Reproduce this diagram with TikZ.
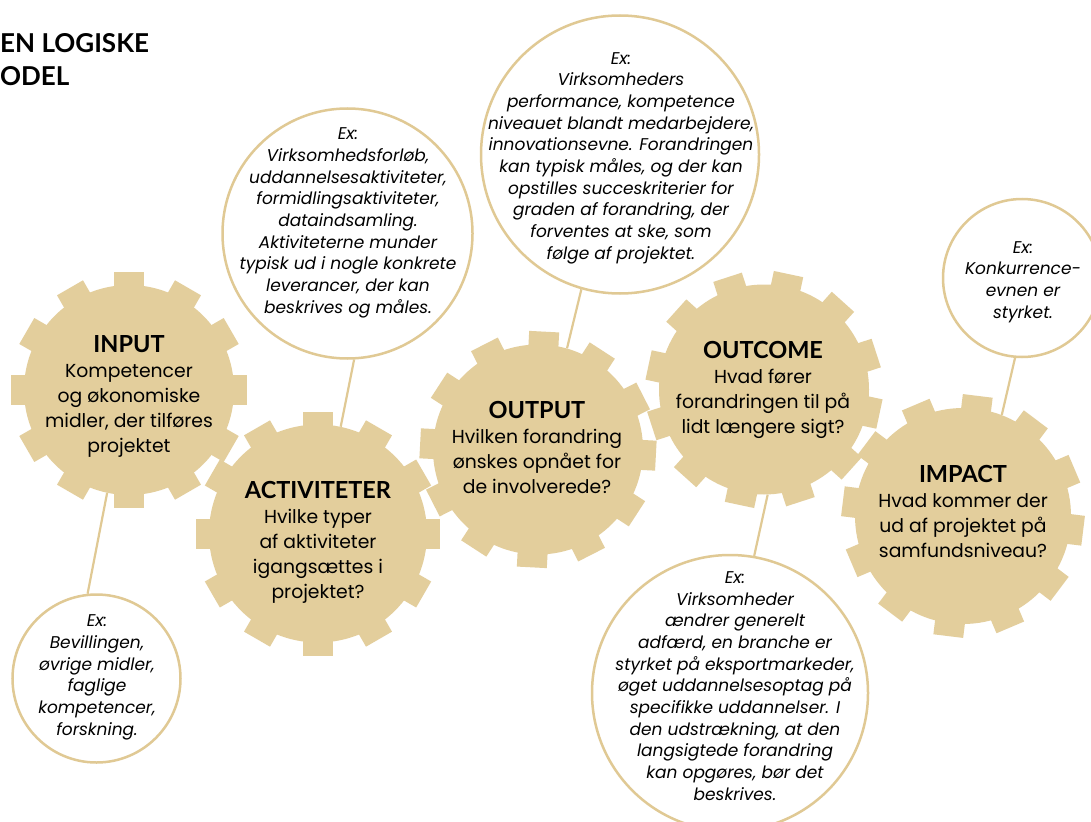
\documentclass[tikz,border=0pt]{standalone}
\usepackage{fontspec}
\setmainfont{Lato}
\newfontfamily\tfont{Lato}
\newfontfamily\gfont{Poppins}
\newfontfamily\exfont{Poppins}
\definecolor{gearfill}{RGB}{227,206,156}
\definecolor{ringline}{RGB}{224,201,148}
\tikzset{
  pics/gearwheel/.style 2 args={code={
    \fill[gearfill] (0,0) circle ({#1-13});
    \foreach \k in {0,...,11}{
      \fill[gearfill,rotate={#2+30*\k}] (-15,{#1-16}) rectangle (15,#1);
    }
  }},
  gearcore/.style={circle, inner sep=0pt, minimum size=#1},
  gtext/.style={align=center, anchor=base, inner sep=0pt, font=\gfont\fontsize{18.8}{24.8}\selectfont},
  extext/.style={align=center, anchor=base, inner sep=0pt, font=\exfont\itshape\fontsize{17}{21.65}\selectfont},
  exring/.style={circle, draw=ringline, line width=2.5pt, fill=white, inner sep=0pt, minimum size=#1},
  link/.style={draw=ringline, line width=2.2pt},
  titletext/.style={anchor=base west, inner sep=0pt, font=\tfont\bfseries\fontsize{26}{33}\selectfont}
}
\newcommand\gtitle[1]{{\tfont\bfseries\fontsize{23.5}{24.8}\selectfont #1}}
\begin{document}
\begin{tikzpicture}[x=1pt,y=1pt]
\useasboundingbox (0,0) rectangle (1091,-821);
\fill[white] (0,0) rectangle (1091,-821);

% title
\node[titletext] (title1) at (0,-53) {EN LOGISKE};
\node[titletext] (title2) at (0,-86) {ODEL};

% gear cores (for anchors)
\node[gearcore=210] (ginput) at (129,-390) {};
\node[gearcore=218] (gact) at (318,-533.5) {};
\node[gearcore=210] (goutput) at (538,-449.5) {};
\node[gearcore=210] (goutcome) at (764,-389.5) {};
\node[gearcore=216] (gimpact) at (963,-516) {};

% example rings
\node[exring=168] (exinput) at (96.5,-678.5) {};
\node[exring=250] (exact) at (347.5,-233.5) {};
\node[exring=278] (exoutput) at (620,-154.5) {};
\node[exring=276] (exoutcome) at (730,-693) {};
\node[exring=158] (eximpact) at (1022,-278) {};

% links
\draw[link] (ginput.258) -- (exinput.96);
\draw[link] (exact.273) -- (gact.78);
\draw[link] (exoutput.254) -- (goutput.74);
\draw[link] (goutcome.272) -- (exoutcome.80);
\draw[link] (eximpact.265) -- (gimpact.69);

% gears
\pic at (129,-390) {gearwheel={118}{0}};
\pic at (318,-533.5) {gearwheel={122}{0}};
\pic at (538,-449.5) {gearwheel={118}{-3}};
\pic at (764,-389.5) {gearwheel={118}{-12}};
\pic at (963,-516) {gearwheel={121}{-7}};

% gear texts (anchor = baseline of last line)
\node[gtext] (tinput) at (129,-452) {\gtitle{INPUT}\\Kompetencer\\og økonomiske\\midler, der tilføres\\projektet};
\node[gtext] (tact) at (318,-598) {\gtitle{ACTIVITETER}\\Hvilke typer\\af aktiviteter\\igangsættes i\\projektet?};
\node[gtext] (toutput) at (537,-493) {\gtitle{OUTPUT}\\Hvilken forandring\\ønskes opnået for\\de involverede?};
\node[gtext] (toutcome) at (763,-433) {\gtitle{OUTCOME}\\Hvad fører\\forandringen til på\\lidt længere sigt?};
\node[gtext] (timpact) at (963,-557) {\gtitle{IMPACT}\\Hvad kommer der\\ud af projektet på\\samfundsniveau?};

% example texts (anchor = baseline of last line)
\node[extext] (xinput) at (97,-735) {Ex:\\Bevillingen,\\øvrige midler,\\faglige\\kompetencer,\\forskning.};
\node[extext] (xact) at (348,-313) {Ex:\\Virksomhedsforløb,\\uddannelsesaktiviteter,\\formidlingsaktiviteter,\\dataindsamling.\\Aktiviteterne munder\\typisk ud i nogle konkrete\\leverancer, der kan\\beskrives og måles.};
\node[extext] (xoutput) at (621,-259) {Ex:\\Virksomheders\\performance, kompetence\\niveauet blandt medarbejdere,\\innovationsevne. Forandringen\\kan typisk måles, og der kan\\opstilles succeskriterier for\\graden af forandring, der\\forventes at ske, som\\følge af projektet.};
\node[extext] (xoutcome) at (735,-800) {Ex:\\Virksomheder\\ændrer generelt\\adfærd, en branche er\\styrket på eksportmarkeder,\\øget uddannelsesoptag på\\specifikke uddannelser. I\\den udstrækning, at den\\langsigtede forandring\\kan opgøres, bør det\\beskrives.};
\node[extext] (ximpact) at (1023,-318) {Ex:\\Konkurrence-\\evnen er\\styrket.};
\end{tikzpicture}
\end{document}
